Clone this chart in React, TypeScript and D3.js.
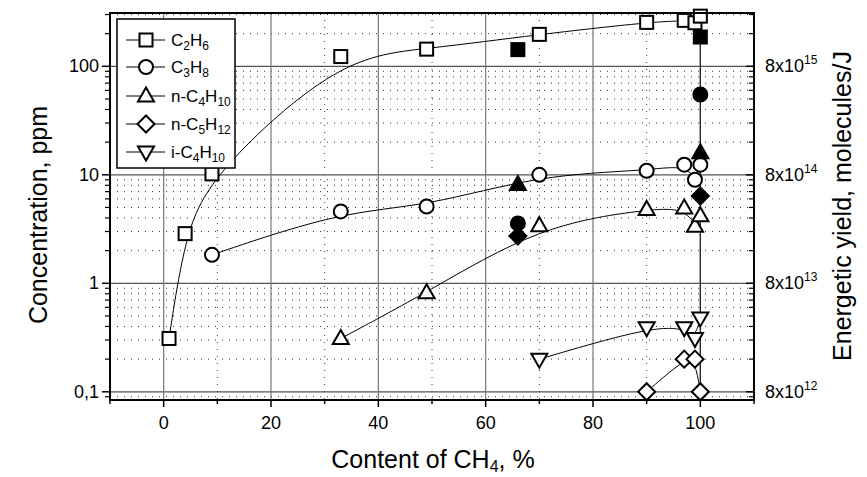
import React from "react";
import * as d3 from "d3";

// ---- data (left axis: concentration, ppm) ----
const xTicksMajor = [0, 20, 40, 60, 80, 100];
const xTicksMinor = [-10, 10, 30, 50, 70, 90, 110];
const yTickValues = [100, 10, 1, 0.1];
const yTickLabels = ["100", "10", "1", "0,1"];
const rightTickValues = [8e15, 8e14, 8e13, 8e12];
const rightTickExp = ["15", "14", "13", "12"];

const c2h6X = [1, 4, 9, 33, 49, 70, 90, 97, 99, 100];
const c2h6Y = [0.31, 2.87, 10.2, 123, 144, 197, 254, 265, 252, 290];
const c3h8X = [9, 33, 49, 70, 90, 97, 99, 100];
const c3h8Y = [1.83, 4.6, 5.1, 10, 10.9, 12.4, 9.0, 12.4];
const nc4X = [33, 49, 70, 90, 97, 99, 100];
const nc4Y = [0.31, 0.82, 3.4, 4.8, 4.95, 3.36, 4.2];
const nc5X = [90, 97, 99, 100];
const nc5Y = [0.1, 0.2, 0.2, 0.1];
const ic4X = [70, 90, 97, 99, 100];
const ic4Y = [0.2, 0.39, 0.39, 0.31, 0.48];

// ---- energetic yield (right axis, molecules/J) ----
const yieldX = [66, 100];
const yieldC2H6 = [1.14e16, 1.49e16];
const yieldC3H8 = [2.85e14, 4.4e15];
const yieldNC4 = [6.5e14, 1.28e15];
const yieldNC5 = [2.18e14, 5.1e14];

const legendNames = [
  ["C", "2", "H", "6"],
  ["C", "3", "H", "8"],
  ["n-C", "4", "H", "10"],
  ["n-C", "5", "H", "12"],
  ["i-C", "4", "H", "10"],
];
const legendShapes = ["square", "circle", "triangle", "diamond", "itriangle"];

const W = 867, H = 477;
const L = 110, R = 754, T = 13, B = 400;
const FONT = "'Liberation Sans', Arial, sans-serif";

const x = d3.scaleLinear().domain([-10, 110]).range([L, R]);
const y = d3.scaleLog().domain([0.084, 310]).range([B, T]);
const RATIO = 8e13;
const yR = d3.scaleLog().domain([0.084 * RATIO, 310 * RATIO]).range([B, T]);

function Marker({ shape, cx, cy, filled }: { shape: string; cx: number; cy: number; filled?: boolean }) {
  const fill = filled ? "#000" : "#fff";
  const sw = 2;
  if (shape === "square") return <rect x={cx - 6.5} y={cy - 6.5} width={13} height={13} fill={fill} stroke="#000" strokeWidth={sw} />;
  if (shape === "circle") return <circle cx={cx} cy={cy} r={7} fill={fill} stroke="#000" strokeWidth={sw} />;
  if (shape === "triangle") return <path d={`M${cx},${cy - 8.5}L${cx + 8},${cy + 5.5}L${cx - 8},${cy + 5.5}Z`} fill={fill} stroke="#000" strokeWidth={sw} />;
  if (shape === "itriangle") return <path d={`M${cx},${cy + 8.5}L${cx + 8},${cy - 5.5}L${cx - 8},${cy - 5.5}Z`} fill={fill} stroke="#000" strokeWidth={sw} />;
  return <path d={`M${cx},${cy - 8.5}L${cx + 8.5},${cy}L${cx},${cy + 8.5}L${cx - 8.5},${cy}Z`} fill={fill} stroke="#000" strokeWidth={sw} />;
}

const line = d3.line<[number, number]>().x((d) => x(d[0])).y((d) => y(d[1])).curve(d3.curveBasis);

export default function App() {
  const minorY: number[] = [];
  for (let e = -2; e <= 2; e++) {
    for (let k = 2; k <= 9; k++) {
      const v = k * Math.pow(10, e);
      if (v > 0.084 && v < 310) minorY.push(v);
    }
  }
  const series = [
    { xs: c2h6X, ys: c2h6Y, shape: "square" },
    { xs: c3h8X, ys: c3h8Y, shape: "circle" },
    { xs: nc4X, ys: nc4Y, shape: "triangle" },
    { xs: nc5X, ys: nc5Y, shape: "diamond" },
    { xs: ic4X, ys: ic4Y, shape: "itriangle" },
  ];
  const yields = [
    { ys: yieldC2H6, shape: "square" },
    { ys: yieldC3H8, shape: "circle" },
    { ys: yieldNC4, shape: "triangle" },
    { ys: yieldNC5, shape: "diamond" },
  ];
  const legY = [40, 67, 96, 124, 152];

  return (
    <svg width={W} height={H} style={{ position: "absolute", left: 0, top: 0, background: "#fff" }} fontFamily={FONT}>
      <rect x={0} y={0} width={W} height={H} fill="#fff" />
      {/* minor grid */}
      {minorY.map((v, i) => (
        <line key={"my" + i} x1={L} x2={R} y1={y(v)} y2={y(v)} stroke="#333" strokeWidth={1} strokeDasharray="1 6" />
      ))}
      {xTicksMinor.filter((v) => v > -10 && v < 110).map((v) => (
        <line key={"mx" + v} x1={x(v)} x2={x(v)} y1={T} y2={B} stroke="#333" strokeWidth={1} strokeDasharray="1 6" />
      ))}
      {/* major grid */}
      {yTickValues.map((v) => (
        <line key={"gy" + v} x1={L} x2={R} y1={y(v)} y2={y(v)} stroke="#555" strokeWidth={1.2} />
      ))}
      {xTicksMajor.map((v) => (
        <line key={"gx" + v} x1={x(v)} x2={x(v)} y1={T} y2={B} stroke="#777" strokeWidth={1.2} />
      ))}

      {/* drop line at x=100 */}
      <line x1={x(yieldX[1])} x2={x(yieldX[1])} y1={yR(yieldC2H6[1])} y2={y(0.1)} stroke="#222" strokeWidth={1.2} />

      {/* curves */}
      {series.map((s, i) => (
        <path key={"c" + i} d={line(s.xs.map((v, j) => [v, s.ys[j]] as [number, number])) || ""} fill="none" stroke="#000" strokeWidth={1} />
      ))}
      {/* markers */}
      {series.map((s, i) =>
        s.xs.map((v, j) => <Marker key={`m${i}-${j}`} shape={s.shape} cx={x(v)} cy={y(s.ys[j])} />)
      )}
      {yields.map((s, i) =>
        yieldX.map((v, j) => <Marker key={`f${i}-${j}`} shape={s.shape} cx={x(v)} cy={yR(s.ys[j])} filled />)
      )}

      {/* frame */}
      <rect x={L} y={T} width={R - L} height={B - T} fill="none" stroke="#000" strokeWidth={2} />

      {/* x ticks */}
      {xTicksMajor.map((v) => (
        <g key={"xt" + v}>
          <line x1={x(v)} x2={x(v)} y1={B} y2={B + 7} stroke="#000" strokeWidth={1.5} />
          <text x={x(v)} y={429} textAnchor="middle" fontSize={18}>{v}</text>
        </g>
      ))}
      {xTicksMinor.map((v) => (
        <line key={"xm" + v} x1={x(v)} x2={x(v)} y1={B} y2={B + 4} stroke="#000" strokeWidth={1.5} />
      ))}

      {/* left y ticks */}
      {yTickValues.map((v, i) => (
        <g key={"yt" + v}>
          <line x1={L - 8} x2={L} y1={y(v)} y2={y(v)} stroke="#000" strokeWidth={1.5} />
          <text x={L - 11} y={y(v) + 6} textAnchor="end" fontSize={18}>{yTickLabels[i]}</text>
        </g>
      ))}
      {minorY.map((v, i) => (
        <line key={"ym" + i} x1={L - 5} x2={L} y1={y(v)} y2={y(v)} stroke="#000" strokeWidth={1.2} />
      ))}
      {/* right y ticks */}
      {rightTickValues.map((v, i) => (
        <g key={"rt" + v}>
          <line x1={R - 8} x2={R} y1={yR(v)} y2={yR(v)} stroke="#000" strokeWidth={1.5} />
          <text x={R + 11} y={yR(v) + 6} fontSize={18}>
            8x10<tspan dy={-8} fontSize={12}>{rightTickExp[i]}</tspan>
          </text>
        </g>
      ))}
      {minorY.map((v, i) => (
        <line key={"rm" + i} x1={R - 5} x2={R} y1={y(v)} y2={y(v)} stroke="#000" strokeWidth={1.2} />
      ))}

      {/* axis titles */}
      <text x={433} y={468} textAnchor="middle" fontSize={25}>
        Content of CH<tspan dy={4} fontSize={16}>4</tspan><tspan dy={-4}>, %</tspan>
      </text>
      <text transform={`translate(47,215) rotate(-90)`} textAnchor="middle" fontSize={25}>Concentration, ppm</text>
      <text transform={`translate(851,206) rotate(-90)`} textAnchor="middle" fontSize={25}>Energetic yield, molecules/J</text>

      {/* legend */}
      <rect x={117} y={19} width={118} height={149} fill="#fff" stroke="#000" strokeWidth={1.5} />
      {legendNames.map((n, i) => (
        <g key={"lg" + i}>
          <line x1={126} x2={165} y1={legY[i]} y2={legY[i]} stroke="#000" strokeWidth={1} />
          <Marker shape={legendShapes[i]} cx={146} cy={legY[i]} />
          <text x={171} y={legY[i] + 6} fontSize={17}>
            {n[0]}<tspan dy={4} fontSize={12}>{n[1]}</tspan><tspan dy={-4}>{n[2]}</tspan><tspan dy={4} fontSize={12}>{n[3]}</tspan>
          </text>
        </g>
      ))}
    </svg>
  );
}
